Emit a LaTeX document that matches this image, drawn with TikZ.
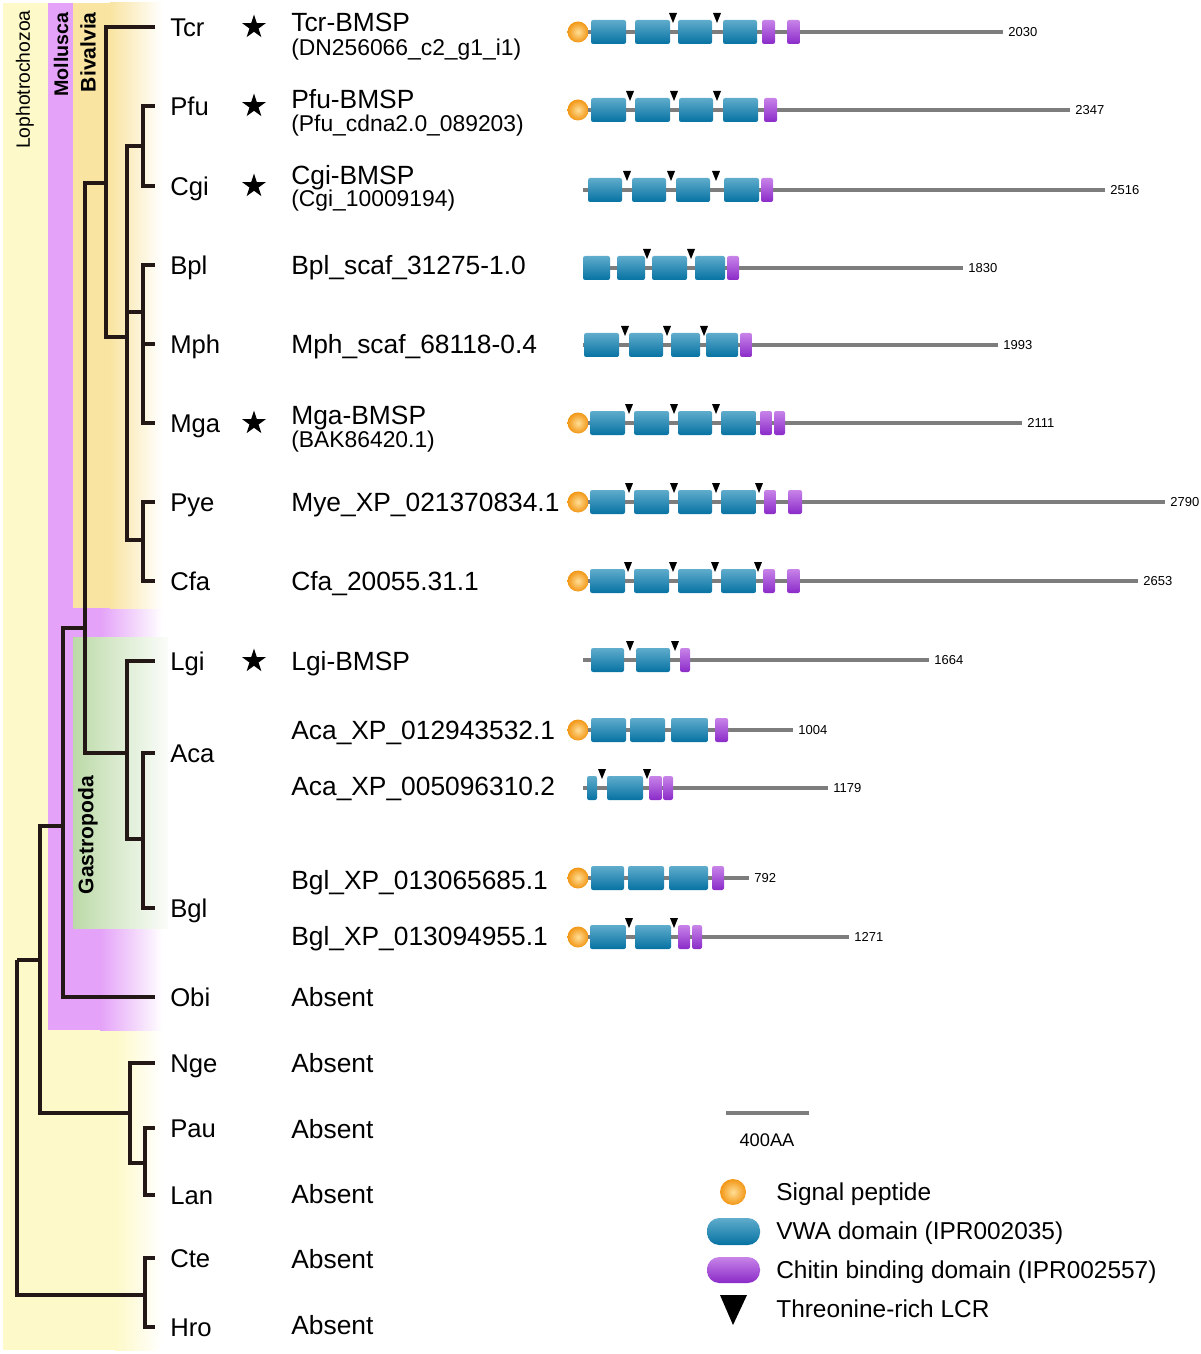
\documentclass[tikz,border=0pt]{standalone}
\usepackage{fontspec}
\setmainfont{Liberation Sans}
\usetikzlibrary{shapes.geometric}

\definecolor{lopho}{RGB}{253,249,200}
\definecolor{moll}{RGB}{228,162,248}
\definecolor{biva}{RGB}{249,228,162}
\definecolor{gastro}{RGB}{188,218,168}
\definecolor{vwatop}{RGB}{96,172,204}
\definecolor{vwabot}{RGB}{6,114,162}
\definecolor{cbdtop}{RGB}{200,132,232}
\definecolor{cbdbot}{RGB}{138,42,200}
\definecolor{splight}{RGB}{255,222,150}
\definecolor{spdark}{RGB}{242,150,20}
\definecolor{branch}{RGB}{35,24,21}
\definecolor{backbone}{RGB}{125,125,125}

\newcommand{\fsz}[1]{\fontsize{#1}{#1}\selectfont}
% threonine-rich LCR mark, row centre at y=0
\newcommand{\tlcr}[1]{\fill (#1-4,-19) -- (#1+4,-19) -- (#1,-9) -- cycle;}

\begin{document}
\begin{tikzpicture}[x=0.02cm,y=-0.02cm]
	\tikzset{
		tree/.style={draw=branch, line width=2.2pt},
		taxon/.style={anchor=west, inner xsep=8.5pt, inner ysep=0pt, text height=10.4pt, text depth=0pt, font=\fsz{14.6}},
		prot/.style={anchor=west, inner sep=0pt, text height=10.7pt, text depth=0pt, font=\fsz{15}},
		sub/.style={anchor=west, inner sep=0pt, text height=9.3pt, text depth=0pt, font=\fsz{13}},
		leg/.style={anchor=west, inner sep=0pt, text height=10pt, text depth=0pt, font=\fsz{13.9}},
		bb/.style={draw=backbone, line width=2.2pt},
		len/.style={anchor=west, inner xsep=2pt, inner ysep=0pt, text height=5.3pt, text depth=0pt, font=\fsz{7.4}},
		vwa/.style={top color=vwatop, bottom color=vwabot, rounded corners=1.2pt},
		cbd/.style={top color=cbdtop, bottom color=cbdbot, rounded corners=1.2pt},
		sp/.style={inner color=splight, outer color=spdark},
		hit/.style={star, star points=5, star point ratio=2.6, fill=black, inner sep=0pt, minimum size=0.5cm},
		clade/.style={rotate=90, inner sep=0pt, font=\bfseries\fsz{12}}
	}
	\useasboundingbox (0,0) rectangle (1200,1354);
	
	% Draw the clade bands
	\fill[lopho] (3,3) rectangle (116,1350);
	\shade[left color=lopho, right color=white] (115,3) rectangle (162,1350);
	\fill[moll] (48,3) rectangle (73,1030);
	\fill[moll] (73,608) rectangle (101,1030);
	\shade[left color=moll, right color=white] (100,608) rectangle (162,1030);
	\fill[biva] (73,3) rectangle (111,608);
	\shade[left color=biva, right color=white] (110,3) rectangle (162,608);
	\shade[left color=gastro, right color=gastro!6!white] (73,637) rectangle (168,928);
	
	\node[rotate=90, anchor=east, inner sep=0pt, font=\fsz{11}] (tlopho) at (25,10) {Lophotrochozoa};
	\node[clade, anchor=east, font=\bfseries\fsz{11.2}] (tmoll) at (61,12) {Mollusca};
	\node[clade, anchor=east] (tbiva) at (88,12) {Bivalvia};
	\node[clade] (tgastro) at (88,835) {Gastropoda};
	
	% Taxa
	\node[taxon] (tcr) at (155,27) {Tcr};
	\node[taxon] (pfu) at (155,106) {Pfu};
	\node[taxon] (cgi) at (155,186) {Cgi};
	\node[taxon] (bpl) at (155,265) {Bpl};
	\node[taxon] (mph) at (155,344) {Mph};
	\node[taxon] (mga) at (155,423) {Mga};
	\node[taxon] (pye) at (155,502) {Pye};
	\node[taxon] (cfa) at (155,581) {Cfa};
	\node[taxon] (lgi) at (155,661) {Lgi};
	\node[taxon] (aca) at (155,753) {Aca};
	\node[taxon] (bgl) at (155,908) {Bgl};
	\node[taxon] (obi) at (155,997) {Obi};
	\node[taxon] (nge) at (155,1063) {Nge};
	\node[taxon] (pau) at (155,1128) {Pau};
	\node[taxon] (lan) at (155,1195) {Lan};
	\node[taxon] (cte) at (155,1258) {Cte};
	\node[taxon] (hro) at (155,1327) {Hro};
	
	% Internal nodes of the tree
	\coordinate (R) at (17,960);
	\coordinate (J) at (40,960);
	\coordinate (M) at (145,1295);
	\coordinate (I) at (63,826);
	\coordinate (K) at (130,1113);
	\coordinate (L) at (145,1163);
	\coordinate (F) at (85,628);
	\coordinate (A) at (106,183);
	\coordinate (B) at (127,337);
	\coordinate (C) at (143,146);
	\coordinate (D) at (143,312);
	\coordinate (E) at (143,540);
	\coordinate (G) at (127,753);
	\coordinate (H) at (143,839);
	
	\foreach \p/\c in {R/J, R/M, J/I, J/K, I/F, I/obi, F/A, F/G, A/tcr, A/B,
		B/C, B/D, B/E, C/pfu, C/cgi, D/bpl, D/mph, D/mga, E/pye, E/cfa,
		G/lgi, G/H, H/aca, H/bgl, K/nge, K/L, L/pau, L/lan, M/cte, M/hro}
		\draw[tree] (\p) |- (\c);
	
	% BMSP stars
	\node[hit] (s1) at (254,27) {};
	\node[hit] (s2) at (254,106) {};
	\node[hit] (s3) at (254,186) {};
	\node[hit] (s4) at (254,423) {};
	\node[hit] (s5) at (254,661) {};
	
	% Protein names
	\node[prot] (p1) at (291,22) {Tcr-BMSP};
	\node[sub] (p1s) at (291,47) {(DN256066\_c2\_g1\_i1)};
	\node[prot] (p2) at (291,99) {Pfu-BMSP};
	\node[sub] (p2s) at (291,123) {(Pfu\_cdna2.0\_089203)};
	\node[prot] (p3) at (291,175) {Cgi-BMSP};
	\node[sub] (p3s) at (291,198) {(Cgi\_10009194)};
	\node[prot] (p4) at (291,265) {Bpl\_scaf\_31275-1.0};
	\node[prot] (p5) at (291,344) {Mph\_scaf\_68118-0.4};
	\node[prot] (p6) at (291,415) {Mga-BMSP};
	\node[sub] (p6s) at (291,439) {(BAK86420.1)};
	\node[prot] (p7) at (291,502) {Mye\_XP\_021370834.1};
	\node[prot] (p8) at (291,581) {Cfa\_20055.31.1};
	\node[prot] (p9) at (291,661) {Lgi-BMSP};
	\node[prot] (p10) at (291,730) {Aca\_XP\_012943532.1};
	\node[prot] (p11) at (291,786) {Aca\_XP\_005096310.2};
	\node[prot] (p12) at (291,880) {Bgl\_XP\_013065685.1};
	\node[prot] (p13) at (291,936) {Bgl\_XP\_013094955.1};
	\node[prot] (a1) at (291,997) {Absent};
	\node[prot] (a2) at (291,1063) {Absent};
	\node[prot] (a3) at (291,1129) {Absent};
	\node[prot] (a4) at (291,1194) {Absent};
	\node[prot] (a5) at (291,1259) {Absent};
	\node[prot] (a6) at (291,1325) {Absent};
	
	% Domain structures
	\begin{scope}[shift={(0,32)}] % Tcr
		\draw[bb] (578,0) -- (1003,0) node[len] (n1) {2030};
		\foreach \a/\b in {591/626,635/670,678/712,723/757} {\shade[vwa] (\a,-12) rectangle (\b,12);}
		\foreach \a/\b in {762/775,787/800} {\shade[cbd] (\a,-12) rectangle (\b,12);}
		\foreach \a in {673,717} {\tlcr{\a}}
		\shade[sp] (578,0) circle (10.5);
	\end{scope}
	\begin{scope}[shift={(0,110)}] % Pfu
		\draw[bb] (578,0) -- (1070,0) node[len] (n2) {2347};
		\foreach \a/\b in {591/626,635/670,679/713,723/758} {\shade[vwa] (\a,-12) rectangle (\b,12);}
		\shade[cbd] (764,-12) rectangle (777,12);
		\foreach \a in {630,674,717} {\tlcr{\a}}
		\shade[sp] (578,0) circle (10.5);
	\end{scope}
	\begin{scope}[shift={(0,190)}] % Cgi
		\draw[bb] (583,0) -- (1105,0) node[len] (n3) {2516};
		\foreach \a/\b in {588/622,632/666,676/710,724/759} {\shade[vwa] (\a,-12) rectangle (\b,12);}
		\shade[cbd] (761,-12) rectangle (773,12);
		\foreach \a in {627,671,716} {\tlcr{\a}}
	\end{scope}
	\begin{scope}[shift={(0,268)}] % Bpl
		\draw[bb] (583,0) -- (963,0) node[len] (n4) {1830};
		\foreach \a/\b in {583/610,617/645,652/687,695/725} {\shade[vwa] (\a,-12) rectangle (\b,12);}
		\shade[cbd] (727,-12) rectangle (739,12);
		\foreach \a in {647,691} {\tlcr{\a}}
	\end{scope}
	\begin{scope}[shift={(0,345)}] % Mph
		\draw[bb] (583,0) -- (998,0) node[len] (n5) {1993};
		\foreach \a/\b in {584/619,629/663,671/700,706/738} {\shade[vwa] (\a,-12) rectangle (\b,12);}
		\shade[cbd] (740,-12) rectangle (752,12);
		\foreach \a in {625,667,704} {\tlcr{\a}}
	\end{scope}
	\begin{scope}[shift={(0,423)}] % Mga
		\draw[bb] (578,0) -- (1022,0) node[len] (n6) {2111};
		\foreach \a/\b in {590/625,634/669,678/712,721/756} {\shade[vwa] (\a,-12) rectangle (\b,12);}
		\foreach \a/\b in {760/772,774/785} {\shade[cbd] (\a,-12) rectangle (\b,12);}
		\foreach \a in {629,674,716} {\tlcr{\a}}
		\shade[sp] (578,0) circle (10.5);
	\end{scope}
	\begin{scope}[shift={(0,502)}] % Mye
		\draw[bb] (578,0) -- (1165,0) node[len] (n7) {2790};
		\foreach \a/\b in {590/625,634/669,678/712,721/756} {\shade[vwa] (\a,-12) rectangle (\b,12);}
		\foreach \a/\b in {764/776,788/802} {\shade[cbd] (\a,-12) rectangle (\b,12);}
		\foreach \a in {629,674,716,759} {\tlcr{\a}}
		\shade[sp] (578,0) circle (10.5);
	\end{scope}
	\begin{scope}[shift={(0,581)}] % Cfa
		\draw[bb] (578,0) -- (1138,0) node[len] (n8) {2653};
		\foreach \a/\b in {590/625,634/669,678/712,721/756} {\shade[vwa] (\a,-12) rectangle (\b,12);}
		\foreach \a/\b in {763/775,787/800} {\shade[cbd] (\a,-12) rectangle (\b,12);}
		\foreach \a in {628,673,715,758} {\tlcr{\a}}
		\shade[sp] (578,0) circle (10.5);
	\end{scope}
	\begin{scope}[shift={(0,660)}] % Lgi
		\draw[bb] (583,0) -- (929,0) node[len] (n9) {1664};
		\foreach \a/\b in {591/624,636/670} {\shade[vwa] (\a,-12) rectangle (\b,12);}
		\shade[cbd] (680,-12) rectangle (690,12);
		\foreach \a in {630,675} {\tlcr{\a}}
	\end{scope}
	\begin{scope}[shift={(0,730)}] % Aca 1
		\draw[bb] (578,0) -- (793,0) node[len] (n10) {1004};
		\foreach \a/\b in {591/626,630/665,671/708} {\shade[vwa] (\a,-12) rectangle (\b,12);}
		\shade[cbd] (715,-12) rectangle (728,12);
		\shade[sp] (578,0) circle (10.5);
	\end{scope}
	\begin{scope}[shift={(0,788)}] % Aca 2
		\draw[bb] (583,0) -- (828,0) node[len] (n11) {1179};
		\foreach \a/\b in {587/597,607/643} {\shade[vwa] (\a,-12) rectangle (\b,12);}
		\foreach \a/\b in {649/662,663/673} {\shade[cbd] (\a,-12) rectangle (\b,12);}
		\foreach \a in {602,647} {\tlcr{\a}}
	\end{scope}
	\begin{scope}[shift={(0,878)}] % Bgl 1
		\draw[bb] (578,0) -- (749,0) node[len] (n12) {792};
		\foreach \a/\b in {591/624,628/664,669/708} {\shade[vwa] (\a,-12) rectangle (\b,12);}
		\shade[cbd] (712,-12) rectangle (724,12);
		\shade[sp] (578,0) circle (10.5);
	\end{scope}
	\begin{scope}[shift={(0,937)}] % Bgl 2
		\draw[bb] (578,0) -- (849,0) node[len] (n13) {1271};
		\foreach \a/\b in {590/626,635/671} {\shade[vwa] (\a,-12) rectangle (\b,12);}
		\foreach \a/\b in {678/690,692/702} {\shade[cbd] (\a,-12) rectangle (\b,12);}
		\foreach \a in {629,674} {\tlcr{\a}}
		\shade[sp] (578,0) circle (10.5);
	\end{scope}
	
	% Scale bar and legend
	\coordinate (sbl) at (726,1113);
	\coordinate (sbr) at (809,1113);
	\draw[bb, line width=2.4pt] (sbl) -- (sbr);
	\node[font=\fsz{10.4}, inner sep=0pt] (sbtxt) at (767,1140) {400AA};
	
	\shade[sp] (733,1192) circle (13);
	\shade[vwa, rounded corners=7pt] (707,1218) rectangle (760,1245);
	\shade[cbd, rounded corners=7pt] (707,1257) rectangle (760,1283);
	\fill (720,1295) -- (747,1295) -- (733,1325) -- cycle;
	
	\node[leg] (lg1) at (776,1192) {Signal peptide};
	\node[leg] (lg2) at (776,1231) {VWA domain (IPR002035)};
	\node[leg] (lg3) at (776,1270) {Chitin binding domain (IPR002557)};
	\node[leg] (lg4) at (776,1309) {Threonine-rich LCR};
	
\end{tikzpicture}
\end{document}
